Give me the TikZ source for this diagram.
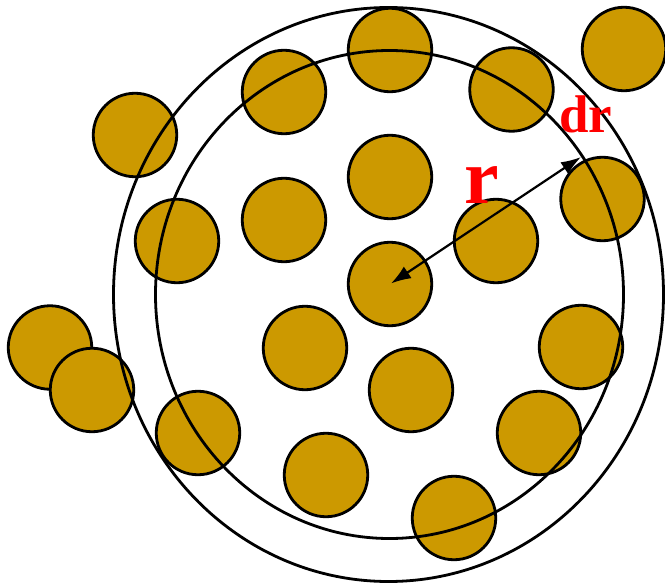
\documentclass[tikz,border=0pt]{standalone}
\usepackage{fontspec}
\setmainfont{Liberation Serif}
\usetikzlibrary{arrows.meta}
\definecolor{gold}{RGB}{204,153,0}
\begin{document}
\begin{tikzpicture}[x=1pt,y=-1pt,
  grain/.style={circle,draw=black,fill=gold,line width=2.8pt,minimum size=83.5pt,inner sep=0pt},
  ring/.style={draw=black,line width=2.8pt},
  lbl/.style={text=red,font=\bfseries,inner sep=0pt,anchor=base west},
  radius arrow/.style={line width=2.2pt,{Latex[length=20pt,width=14pt]}-{Latex[length=20pt,width=14pt]}}]
\useasboundingbox (0,0) rectangle (665,586);
% grains
\node[grain] (g1)  at (390,50)  {};
\node[grain] (g2)  at (624,49)  {};
\node[grain] (g3)  at (284,92)  {};
\node[grain] (g4)  at (511.5,89.5) {};
\node[grain] (g5)  at (135,135) {};
\node[grain] (g6)  at (390,177) {};
\node[grain] (g7)  at (284,220) {};
\node[grain] (g8)  at (177,241) {};
\node[grain] (g9)  at (496,241) {};
\node[grain] (g10) at (602.5,199) {};
\node[grain] (g11) at (390,284) {};
\node[grain] (g12) at (50,347.5) {};
\node[grain] (g13) at (305,348) {};
\node[grain] (g14) at (581,347) {};
\node[grain] (g15) at (92,390) {};
\node[grain] (g16) at (411,390) {};
\node[grain] (g17) at (198,433) {};
\node[grain] (g18) at (539,433) {};
\node[grain] (g19) at (326,475) {};
\node[grain] (g20) at (454,518) {};
% shells
\draw[ring] (388.5,294.5) ellipse [x radius=275, y radius=287];
\draw[ring] (389.5,294.5) ellipse [x radius=234, y radius=244];
% radius arrow
\coordinate (ctr) at (391,283.5);
\coordinate (edge) at (581,157);
\draw[radius arrow] (ctr) -- (edge);
% labels
\node[lbl,font=\bfseries\fontsize{78}{78}\selectfont] (r) at (464,204) {r};
\node[lbl,font=\bfseries\fontsize{53}{53}\selectfont] (dr) at (559,132) {dr};
\end{tikzpicture}
\end{document}
